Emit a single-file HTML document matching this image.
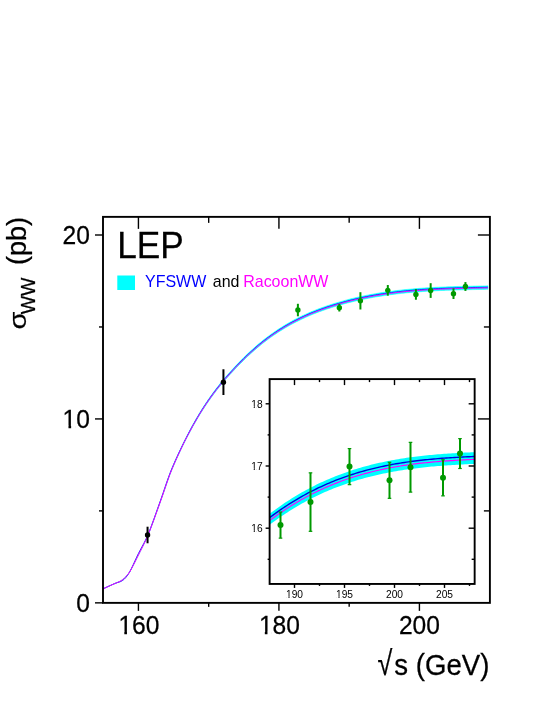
<!DOCTYPE html>
<html><head><meta charset="utf-8">
<style>
html,body{margin:0;padding:0;background:#fff;}
body{width:556px;height:719px;overflow:hidden;}
svg{display:block;will-change:transform;}
text{font-family:"Liberation Sans",sans-serif;fill:#000;}
</style></head>
<body>
<svg width="556" height="719" viewBox="0 0 556 719">
<rect width="556" height="719" fill="#fff"/>
<!-- main curve -->
<clipPath id="cm"><rect x="103.0" y="216.87" width="386.9" height="386"/></clipPath>
<g clip-path="url(#cm)">
<path d="M103.31,588.73 L105.06,587.84 L106.82,587.01 L108.57,586.21 L110.33,585.42 L112.09,584.63 L113.84,583.84 L115.60,583.07 L117.36,582.33 L119.11,581.62 L120.87,580.68 L122.62,579.47 L124.38,578.03 L126.14,576.33 L127.89,574.23 L129.65,571.75 L131.41,568.60 L133.16,565.24 L134.92,561.75 L136.67,558.22 L138.43,554.70 L140.19,551.16 L141.94,547.61 L143.70,544.06 L145.45,540.41 L147.21,536.59 L148.97,532.30 L150.72,527.70 L152.48,522.98 L154.24,518.16 L155.99,513.26 L157.75,508.32 L159.50,503.37 L161.26,498.43 L163.02,493.36 L164.77,488.17 L166.53,482.98 L168.29,477.91 L170.04,473.07 L171.80,468.62 L173.55,464.42 L175.31,460.35 L177.07,456.40 L178.82,452.55 L180.58,448.78 L182.34,445.08 L184.09,441.45 L185.85,437.93 L187.60,434.49 L189.36,431.12 L191.12,427.83 L192.87,424.61 L194.63,421.46 L196.38,418.39 L198.14,415.39 L199.90,412.47 L201.65,409.61 L203.41,406.83 L205.17,404.13 L206.92,401.49 L208.68,398.91 L210.43,396.40 L212.19,393.96 L213.95,391.57 L215.70,389.23 L217.46,386.96 L219.22,384.73 L220.97,382.55 L222.73,380.41 L224.48,378.33 L226.24,376.28 L228.00,374.27 L229.75,372.29 L231.51,370.35 L233.26,368.45 L235.02,366.57 L236.78,364.71 L238.53,362.88 L240.29,361.08 L242.05,359.29 L243.80,357.53 L245.56,355.80 L247.31,354.10 L249.07,352.43 L250.83,350.80 L252.58,349.19 L254.34,347.62 L256.10,346.08 L257.85,344.58 L259.61,343.10 L261.36,341.66 L263.12,340.25 L264.88,338.87 L266.63,337.52 L268.39,336.20 L270.14,334.90 L271.90,333.64 L273.66,332.40 L275.41,331.19 L277.17,330.01 L278.93,328.86 L280.68,327.73 L282.44,326.63 L284.19,325.55 L285.95,324.50 L287.71,323.47 L289.46,322.46 L291.22,321.48 L292.98,320.52 L294.73,319.59 L296.49,318.68 L298.24,317.78 L300.00,316.91 L301.76,316.06 L303.51,315.23 L305.27,314.42 L307.03,313.63 L308.78,312.86 L310.54,312.11 L312.29,311.37 L314.05,310.65 L315.81,309.95 L317.56,309.26 L319.32,308.59 L321.07,307.94 L322.83,307.30 L324.59,306.68 L326.34,306.07 L328.10,305.47 L329.86,304.89 L331.61,304.32 L333.37,303.76 L335.12,303.22 L336.88,302.68 L338.64,302.16 L340.39,301.65 L342.15,301.15 L343.91,300.66 L345.66,300.18 L347.42,299.72 L349.17,299.26 L350.93,298.82 L352.69,298.38 L354.44,297.96 L356.20,297.54 L357.96,297.14 L359.71,296.75 L361.47,296.36 L363.22,295.99 L364.98,295.63 L366.74,295.27 L368.49,294.93 L370.25,294.59 L372.00,294.26 L373.76,293.94 L375.52,293.63 L377.27,293.33 L379.03,293.04 L380.79,292.76 L382.54,292.48 L384.30,292.21 L386.05,291.95 L387.81,291.70 L389.57,291.46 L391.32,291.22 L393.08,290.99 L394.84,290.77 L396.59,290.55 L398.35,290.35 L400.10,290.15 L401.86,289.95 L403.62,289.76 L405.37,289.58 L407.13,289.41 L408.88,289.24 L410.64,289.08 L412.40,288.92 L414.15,288.77 L415.91,288.62 L417.67,288.48 L419.42,288.35 L421.18,288.22 L422.93,288.10 L424.69,287.98 L426.45,287.86 L428.20,287.75 L429.96,287.65 L431.72,287.55 L433.47,287.45 L435.23,287.36 L436.98,287.27 L438.74,287.19 L440.50,287.11 L442.25,287.03 L444.01,286.96 L445.76,286.89 L447.52,286.82 L449.28,286.76 L451.03,286.70 L452.79,286.64 L454.55,286.59 L456.30,286.53 L458.06,286.48 L459.81,286.43 L461.57,286.39 L463.33,286.34 L465.08,286.30 L466.84,286.26 L468.60,286.22 L470.35,286.19 L472.11,286.15 L473.86,286.12 L475.62,286.08 L477.38,286.05 L479.13,286.02 L480.89,285.99 L482.65,285.95 L484.40,285.92 L486.16,285.89 L487.91,285.86 L487.91,289.33 L486.16,289.36 L484.40,289.39 L482.65,289.42 L480.89,289.45 L479.13,289.48 L477.38,289.51 L475.62,289.55 L473.86,289.58 L472.11,289.62 L470.35,289.65 L468.60,289.69 L466.84,289.73 L465.08,289.77 L463.33,289.81 L461.57,289.85 L459.81,289.90 L458.06,289.94 L456.30,289.99 L454.55,290.05 L452.79,290.10 L451.03,290.16 L449.28,290.22 L447.52,290.28 L445.76,290.35 L444.01,290.41 L442.25,290.49 L440.50,290.56 L438.74,290.64 L436.98,290.73 L435.23,290.81 L433.47,290.90 L431.72,291.00 L429.96,291.10 L428.20,291.20 L426.45,291.31 L424.69,291.42 L422.93,291.54 L421.18,291.66 L419.42,291.79 L417.67,291.92 L415.91,292.06 L414.15,292.20 L412.40,292.35 L410.64,292.51 L408.88,292.67 L407.13,292.84 L405.37,293.01 L403.62,293.19 L401.86,293.37 L400.10,293.57 L398.35,293.76 L396.59,293.97 L394.84,294.18 L393.08,294.40 L391.32,294.63 L389.57,294.86 L387.81,295.10 L386.05,295.35 L384.30,295.61 L382.54,295.88 L380.79,296.15 L379.03,296.43 L377.27,296.72 L375.52,297.02 L373.76,297.32 L372.00,297.64 L370.25,297.96 L368.49,298.29 L366.74,298.64 L364.98,298.99 L363.22,299.35 L361.47,299.72 L359.71,300.10 L357.96,300.49 L356.20,300.88 L354.44,301.29 L352.69,301.71 L350.93,302.14 L349.17,302.58 L347.42,303.03 L345.66,303.49 L343.91,303.97 L342.15,304.45 L340.39,304.94 L338.64,305.45 L336.88,305.97 L335.12,306.49 L333.37,307.03 L331.61,307.59 L329.86,308.15 L328.10,308.73 L326.34,309.32 L324.59,309.92 L322.83,310.54 L321.07,311.17 L319.32,311.81 L317.56,312.48 L315.81,313.15 L314.05,313.85 L312.29,314.56 L310.54,315.29 L308.78,316.03 L307.03,316.80 L305.27,317.58 L303.51,318.38 L301.76,319.20 L300.00,320.04 L298.24,320.90 L296.49,321.78 L294.73,322.69 L292.98,323.61 L291.22,324.56 L289.46,325.53 L287.71,326.52 L285.95,327.54 L284.19,328.58 L282.44,329.65 L280.68,330.74 L278.93,331.86 L277.17,333.00 L275.41,334.17 L273.66,335.36 L271.90,336.58 L270.14,337.83 L268.39,339.11 L266.63,340.42 L264.88,341.76 L263.12,343.12 L261.36,344.52 L259.61,345.95 L257.85,347.40 L256.10,348.89 L254.34,350.41 L252.58,351.97 L250.83,353.55 L249.07,355.17 L247.31,356.82 L245.56,358.51 L243.80,360.22 L242.05,361.96 L240.29,363.72 L238.53,365.51 L236.78,367.32 L235.02,369.15 L233.26,371.01 L231.51,372.90 L229.75,374.82 L228.00,376.77 L226.24,378.76 L224.48,380.78 L222.73,382.85 L220.97,384.96 L219.22,387.11 L217.46,389.32 L215.70,391.57 L213.95,393.88 L212.19,396.24 L210.43,398.66 L208.68,401.15 L206.92,403.69 L205.17,406.30 L203.41,408.98 L201.65,411.73 L199.90,414.55 L198.14,417.44 L196.38,420.41 L194.63,423.45 L192.87,426.56 L191.12,429.74 L189.36,433.00 L187.60,436.33 L185.85,439.74 L184.09,443.21 L182.34,446.80 L180.58,450.46 L178.82,454.19 L177.07,458.00 L175.31,461.91 L173.55,465.93 L171.80,470.09 L170.04,474.49 L168.29,479.28 L166.53,484.29 L164.77,489.43 L163.02,494.56 L161.26,499.57 L159.50,504.46 L157.75,509.36 L155.99,514.24 L154.24,519.08 L152.48,523.85 L150.72,528.52 L148.97,533.07 L147.21,537.32 L145.45,541.09 L143.70,544.70 L141.94,548.22 L140.19,551.72 L138.43,555.22 L136.67,558.70 L134.92,562.20 L133.16,565.65 L131.41,568.97 L129.65,572.09 L127.89,574.55 L126.14,576.62 L124.38,578.30 L122.62,579.73 L120.87,580.93 L119.11,581.85 L117.36,582.56 L115.60,583.29 L113.84,584.05 L112.09,584.83 L110.33,585.61 L108.57,586.39 L106.82,587.18 L105.06,588.00 L103.31,588.89Z" fill="#00ffff" stroke="#00ffff" stroke-width="0.5"/>
<path d="M103.31,588.79 L105.06,587.91 L106.82,587.08 L108.57,586.28 L110.33,585.50 L112.09,584.71 L113.84,583.95 L115.60,583.22 L117.36,582.60 L119.11,582.10 L120.87,581.45 L122.62,580.46 L124.38,579.04 L126.14,577.15 L127.89,574.76 L129.65,571.98 L131.41,568.54 L133.16,564.85 L134.92,561.00 L136.67,557.15 L138.43,553.51 L140.19,550.10 L141.94,546.87 L143.70,543.67 L145.45,540.28 L147.21,536.62 L148.97,532.37 L150.72,527.77 L152.48,523.02 L154.24,518.16 L155.99,513.23 L157.75,508.27 L159.50,503.30 L161.26,498.36 L163.02,493.30 L164.77,488.14 L166.53,483.00 L168.29,477.99 L170.04,473.23 L171.80,468.85 L173.55,464.72 L175.31,460.73 L177.07,456.86 L178.82,453.07 L180.58,449.35 L182.34,445.70 L184.09,442.11 L185.85,438.63 L187.60,435.22 L189.36,431.87 L191.12,428.60 L192.87,425.40 L194.63,422.27 L196.38,419.21 L198.14,416.23 L199.90,413.32 L201.65,410.48 L203.41,407.71 L205.17,405.02 L206.92,402.39 L208.68,399.83 L210.43,397.33 L212.19,394.89 L213.95,392.51 L215.70,390.19 L217.46,387.92 L219.22,385.70 L220.97,383.53 L222.73,381.41 L224.48,379.33 L226.24,377.29 L228.00,375.29 L229.75,373.33 L231.51,371.40 L233.26,369.50 L235.02,367.62 L236.78,365.78 L238.53,363.96 L240.29,362.16 L242.05,360.38 L243.80,358.63 L245.56,356.91 L247.31,355.22 L249.07,353.55 L250.83,351.92 L252.58,350.33 L254.34,348.76 L256.10,347.23 L257.85,345.73 L259.61,344.27 L261.36,342.83 L263.12,341.43 L264.88,340.05 L266.63,338.71 L268.39,337.39 L270.14,336.10 L271.90,334.84 L273.66,333.61 L275.41,332.41 L277.17,331.23 L278.93,330.08 L280.68,328.96 L282.44,327.86 L284.19,326.79 L285.95,325.74 L287.71,324.72 L289.46,323.72 L291.22,322.74 L292.98,321.79 L294.73,320.86 L296.49,319.95 L298.24,319.06 L300.00,318.19 L301.76,317.35 L303.51,316.52 L305.27,315.71 L307.03,314.93 L308.78,314.16 L310.54,313.41 L312.29,312.67 L314.05,311.96 L315.81,311.26 L317.56,310.58 L319.32,309.91 L321.07,309.26 L322.83,308.63 L324.59,308.00 L326.34,307.40 L328.10,306.80 L329.86,306.22 L331.61,305.66 L333.37,305.10 L335.12,304.56 L336.88,304.03 L338.64,303.51 L340.39,303.00 L342.15,302.50 L343.91,302.01 L345.66,301.54 L347.42,301.07 L349.17,300.62 L350.93,300.18 L352.69,299.74 L354.44,299.32 L356.20,298.91 L357.96,298.51 L359.71,298.12 L361.47,297.74 L363.22,297.36 L364.98,297.00 L366.74,296.65 L368.49,296.30 L370.25,295.97 L372.00,295.64 L373.76,295.33 L375.52,295.02 L377.27,294.72 L379.03,294.43 L380.79,294.14 L382.54,293.87 L384.30,293.60 L386.05,293.34 L387.81,293.09 L389.57,292.85 L391.32,292.61 L393.08,292.39 L394.84,292.17 L396.59,291.95 L398.35,291.74 L400.10,291.54 L401.86,291.35 L403.62,291.16 L405.37,290.98 L407.13,290.81 L408.88,290.64 L410.64,290.48 L412.40,290.32 L414.15,290.17 L415.91,290.03 L417.67,289.89 L419.42,289.76 L421.18,289.63 L422.93,289.51 L424.69,289.39 L426.45,289.27 L428.20,289.16 L429.96,289.06 L431.72,288.96 L433.47,288.86 L435.23,288.77 L436.98,288.69 L438.74,288.60 L440.50,288.52 L442.25,288.45 L444.01,288.37 L445.76,288.30 L447.52,288.24 L449.28,288.17 L451.03,288.11 L452.79,288.06 L454.55,288.00 L456.30,287.95 L458.06,287.90 L459.81,287.85 L461.57,287.80 L463.33,287.76 L465.08,287.72 L466.84,287.68 L468.60,287.64 L470.35,287.60 L472.11,287.57 L473.86,287.53 L475.62,287.50 L477.38,287.47 L479.13,287.43 L480.89,287.40 L482.65,287.37 L484.40,287.34 L486.16,287.31 L487.91,287.28" fill="none" stroke="#0000ff" stroke-width="0.85"/>
<path d="M103.31,588.82 L105.06,587.94 L106.82,587.11 L108.57,586.32 L110.33,585.53 L112.09,584.75 L113.84,583.97 L115.60,583.20 L117.36,582.47 L119.11,581.76 L120.87,580.83 L122.62,579.62 L124.38,578.19 L126.14,576.50 L127.89,574.42 L129.65,571.95 L131.41,568.82 L133.16,565.48 L134.92,562.02 L136.67,558.50 L138.43,555.01 L140.19,551.49 L141.94,547.97 L143.70,544.44 L145.45,540.81 L147.21,537.02 L148.97,532.75 L150.72,528.18 L152.48,523.50 L154.24,518.71 L155.99,513.84 L157.75,508.93 L159.50,504.01 L161.26,499.11 L163.02,494.07 L164.77,488.91 L166.53,483.76 L168.29,478.72 L170.04,473.91 L171.80,469.49 L173.55,465.31 L175.31,461.27 L177.07,457.35 L178.82,453.52 L180.58,449.77 L182.34,446.10 L184.09,442.49 L185.85,439.00 L187.60,435.58 L189.36,432.23 L191.12,428.96 L192.87,425.76 L194.63,422.64 L196.38,419.58 L198.14,416.60 L199.90,413.70 L201.65,410.86 L203.41,408.10 L205.17,405.41 L206.92,402.79 L208.68,400.23 L210.43,397.74 L212.19,395.31 L213.95,392.93 L215.70,390.62 L217.46,388.35 L219.22,386.14 L220.97,383.97 L222.73,381.85 L224.48,379.78 L226.24,377.74 L228.00,375.75 L229.75,373.78 L231.51,371.86 L233.26,369.96 L235.02,368.09 L236.78,366.25 L238.53,364.43 L240.29,362.64 L242.05,360.87 L243.80,359.12 L245.56,357.40 L247.31,355.71 L249.07,354.05 L250.83,352.42 L252.58,350.83 L254.34,349.27 L256.10,347.74 L257.85,346.25 L259.61,344.78 L261.36,343.35 L263.12,341.95 L264.88,340.58 L266.63,339.23 L268.39,337.92 L270.14,336.64 L271.90,335.38 L273.66,334.15 L275.41,332.95 L277.17,331.78 L278.93,330.63 L280.68,329.51 L282.44,328.41 L284.19,327.34 L285.95,326.30 L287.71,325.27 L289.46,324.28 L291.22,323.30 L292.98,322.35 L294.73,321.42 L296.49,320.51 L298.24,319.63 L300.00,318.76 L301.76,317.92 L303.51,317.09 L305.27,316.29 L307.03,315.50 L308.78,314.73 L310.54,313.98 L312.29,313.25 L314.05,312.54 L315.81,311.84 L317.56,311.16 L319.32,310.50 L321.07,309.85 L322.83,309.21 L324.59,308.59 L326.34,307.99 L328.10,307.40 L329.86,306.82 L331.61,306.25 L333.37,305.70 L335.12,305.15 L336.88,304.62 L338.64,304.10 L340.39,303.60 L342.15,303.10 L343.91,302.61 L345.66,302.14 L347.42,301.68 L349.17,301.22 L350.93,300.78 L352.69,300.35 L354.44,299.93 L356.20,299.52 L357.96,299.12 L359.71,298.73 L361.47,298.35 L363.22,297.97 L364.98,297.61 L366.74,297.26 L368.49,296.92 L370.25,296.58 L372.00,296.26 L373.76,295.94 L375.52,295.63 L377.27,295.33 L379.03,295.04 L380.79,294.76 L382.54,294.49 L384.30,294.22 L386.05,293.96 L387.81,293.71 L389.57,293.47 L391.32,293.23 L393.08,293.01 L394.84,292.79 L396.59,292.57 L398.35,292.37 L400.10,292.17 L401.86,291.97 L403.62,291.79 L405.37,291.61 L407.13,291.43 L408.88,291.27 L410.64,291.10 L412.40,290.95 L414.15,290.80 L415.91,290.65 L417.67,290.52 L419.42,290.38 L421.18,290.25 L422.93,290.13 L424.69,290.01 L426.45,289.90 L428.20,289.79 L429.96,289.69 L431.72,289.59 L433.47,289.49 L435.23,289.40 L436.98,289.31 L438.74,289.23 L440.50,289.15 L442.25,289.07 L444.01,289.00 L445.76,288.93 L447.52,288.87 L449.28,288.80 L451.03,288.74 L452.79,288.68 L454.55,288.63 L456.30,288.58 L458.06,288.53 L459.81,288.48 L461.57,288.43 L463.33,288.39 L465.08,288.35 L466.84,288.31 L468.60,288.27 L470.35,288.23 L472.11,288.20 L473.86,288.16 L475.62,288.13 L477.38,288.10 L479.13,288.07 L480.89,288.03 L482.65,288.00 L484.40,287.97 L486.16,287.94 L487.91,287.91" fill="none" stroke="#ff00ff" stroke-width="1.0"/>
</g>
<line x1="147.56" y1="526.71" x2="147.56" y2="543.27" stroke="#000" stroke-width="2"/><circle cx="147.56" cy="534.99" r="2.7" fill="#000"/>
<line x1="223.43" y1="369.27" x2="223.43" y2="395.02" stroke="#000" stroke-width="2"/><circle cx="223.43" cy="382.14" r="2.7" fill="#000"/>
<line x1="297.89" y1="303.79" x2="297.89" y2="316.30" stroke="#009900" stroke-width="2"/><circle cx="297.89" cy="310.04" r="2.7" fill="#009900"/>
<line x1="339.34" y1="303.79" x2="339.34" y2="311.51" stroke="#009900" stroke-width="2"/><circle cx="339.34" cy="307.65" r="2.7" fill="#009900"/>
<line x1="360.41" y1="292.20" x2="360.41" y2="309.49" stroke="#009900" stroke-width="2"/><circle cx="360.41" cy="300.85" r="2.7" fill="#009900"/>
<line x1="387.81" y1="285.03" x2="387.81" y2="295.70" stroke="#009900" stroke-width="2"/><circle cx="387.81" cy="290.36" r="2.7" fill="#009900"/>
<line x1="415.91" y1="289.08" x2="415.91" y2="299.74" stroke="#009900" stroke-width="2"/><circle cx="415.91" cy="294.41" r="2.7" fill="#009900"/>
<line x1="430.66" y1="283.19" x2="430.66" y2="297.90" stroke="#009900" stroke-width="2"/><circle cx="430.66" cy="290.55" r="2.7" fill="#009900"/>
<line x1="453.49" y1="288.34" x2="453.49" y2="299.01" stroke="#009900" stroke-width="2"/><circle cx="453.49" cy="293.67" r="2.7" fill="#009900"/>
<line x1="465.43" y1="282.09" x2="465.43" y2="290.91" stroke="#009900" stroke-width="2"/><circle cx="465.43" cy="286.50" r="2.7" fill="#009900"/>

<!-- main frame -->
<rect x="103.0" y="216.87" width="386.9" height="386" fill="none" stroke="#000" stroke-width="1.9"/>
<g stroke="#000" stroke-width="1.4"><line x1="138.43" y1="602.86" x2="138.43" y2="610.86"/><line x1="138.43" y1="216.87" x2="138.43" y2="228.87"/><line x1="208.68" y1="602.86" x2="208.68" y2="606.86"/><line x1="208.68" y1="216.87" x2="208.68" y2="222.87"/><line x1="278.93" y1="602.86" x2="278.93" y2="610.86"/><line x1="278.93" y1="216.87" x2="278.93" y2="228.87"/><line x1="349.17" y1="602.86" x2="349.17" y2="606.86"/><line x1="349.17" y1="216.87" x2="349.17" y2="222.87"/><line x1="419.42" y1="602.86" x2="419.42" y2="610.86"/><line x1="419.42" y1="216.87" x2="419.42" y2="228.87"/><line x1="103.0" y1="602.86" x2="95.00" y2="602.86"/><line x1="103.0" y1="510.89" x2="99.00" y2="510.89"/><line x1="489.9" y1="510.89" x2="483.90" y2="510.89"/><line x1="103.0" y1="418.93" x2="95.00" y2="418.93"/><line x1="489.9" y1="418.93" x2="477.90" y2="418.93"/><line x1="103.0" y1="326.97" x2="99.00" y2="326.97"/><line x1="489.9" y1="326.97" x2="483.90" y2="326.97"/><line x1="103.0" y1="235.00" x2="95.00" y2="235.00"/><line x1="489.9" y1="235.00" x2="477.90" y2="235.00"/></g>
<!-- inset -->
<rect x="269.62" y="379.1" width="205.03" height="204.85" fill="#fff"/>
<clipPath id="ci"><rect x="269.62" y="379.1" width="205.03" height="204.85"/></clipPath>
<g clip-path="url(#ci)">
<path d="M268.50,514.59 L270.59,512.99 L272.68,511.43 L274.77,509.89 L276.86,508.38 L278.95,506.90 L281.05,505.44 L283.14,504.01 L285.23,502.61 L287.32,501.24 L289.41,499.89 L291.50,498.57 L293.59,497.27 L295.68,496.00 L297.77,494.75 L299.86,493.53 L301.95,492.33 L304.05,491.16 L306.14,490.01 L308.23,488.89 L310.32,487.78 L312.41,486.71 L314.50,485.65 L316.59,484.62 L318.68,483.61 L320.77,482.62 L322.86,481.65 L324.95,480.71 L327.05,479.79 L329.14,478.88 L331.23,478.00 L333.32,477.14 L335.41,476.30 L337.50,475.48 L339.59,474.68 L341.68,473.90 L343.77,473.14 L345.86,472.39 L347.95,471.67 L350.05,470.96 L352.14,470.28 L354.23,469.61 L356.32,468.95 L358.41,468.32 L360.50,467.70 L362.59,467.10 L364.68,466.51 L366.77,465.95 L368.86,465.39 L370.95,464.86 L373.05,464.34 L375.14,463.83 L377.23,463.34 L379.32,462.86 L381.41,462.40 L383.50,461.95 L385.59,461.52 L387.68,461.09 L389.77,460.69 L391.86,460.29 L393.95,459.91 L396.05,459.54 L398.14,459.18 L400.23,458.84 L402.32,458.51 L404.41,458.18 L406.50,457.87 L408.59,457.57 L410.68,457.28 L412.77,457.00 L414.86,456.73 L416.95,456.48 L419.05,456.23 L421.14,455.98 L423.23,455.75 L425.32,455.53 L427.41,455.32 L429.50,455.11 L431.59,454.91 L433.68,454.72 L435.77,454.54 L437.86,454.36 L439.95,454.19 L442.05,454.03 L444.14,453.87 L446.23,453.72 L448.32,453.58 L450.41,453.44 L452.50,453.30 L454.59,453.18 L456.68,453.05 L458.77,452.93 L460.86,452.82 L462.95,452.70 L465.05,452.60 L467.14,452.49 L469.23,452.39 L471.32,452.29 L473.41,452.19 L475.50,452.10 L475.50,463.82 L473.41,463.91 L471.32,464.01 L469.23,464.11 L467.14,464.21 L465.05,464.31 L462.95,464.42 L460.86,464.53 L458.77,464.64 L456.68,464.76 L454.59,464.88 L452.50,465.01 L450.41,465.14 L448.32,465.28 L446.23,465.42 L444.14,465.57 L442.05,465.73 L439.95,465.89 L437.86,466.06 L435.77,466.23 L433.68,466.41 L431.59,466.60 L429.50,466.80 L427.41,467.00 L425.32,467.21 L423.23,467.43 L421.14,467.66 L419.05,467.90 L416.95,468.15 L414.86,468.40 L412.77,468.67 L410.68,468.95 L408.59,469.23 L406.50,469.53 L404.41,469.84 L402.32,470.16 L400.23,470.49 L398.14,470.83 L396.05,471.18 L393.95,471.55 L391.86,471.92 L389.77,472.31 L387.68,472.72 L385.59,473.13 L383.50,473.56 L381.41,474.01 L379.32,474.46 L377.23,474.93 L375.14,475.42 L373.05,475.92 L370.95,476.44 L368.86,476.97 L366.77,477.51 L364.68,478.08 L362.59,478.66 L360.50,479.25 L358.41,479.86 L356.32,480.49 L354.23,481.13 L352.14,481.80 L350.05,482.48 L347.95,483.18 L345.86,483.89 L343.77,484.63 L341.68,485.38 L339.59,486.15 L337.50,486.95 L335.41,487.76 L333.32,488.59 L331.23,489.44 L329.14,490.31 L327.05,491.20 L324.95,492.12 L322.86,493.05 L320.77,494.01 L318.68,494.98 L316.59,495.98 L314.50,497.00 L312.41,498.05 L310.32,499.11 L308.23,500.20 L306.14,501.32 L304.05,502.45 L301.95,503.61 L299.86,504.80 L297.77,506.00 L295.68,507.24 L293.59,508.50 L291.50,509.78 L289.41,511.09 L287.32,512.42 L285.23,513.78 L283.14,515.17 L281.05,516.58 L278.95,518.02 L276.86,519.48 L274.77,520.98 L272.68,522.50 L270.59,524.05 L268.50,525.62Z" fill="#00ffff"/>
<path d="M268.50,518.55 L270.59,516.96 L272.68,515.41 L274.77,513.88 L276.86,512.38 L278.95,510.90 L281.05,509.45 L283.14,508.03 L285.23,506.64 L287.32,505.27 L289.41,503.93 L291.50,502.62 L293.59,501.33 L295.68,500.06 L297.77,498.82 L299.86,497.61 L301.95,496.42 L304.05,495.25 L306.14,494.11 L308.23,492.99 L310.32,491.89 L312.41,490.82 L314.50,489.77 L316.59,488.75 L318.68,487.74 L320.77,486.76 L322.86,485.80 L324.95,484.86 L327.05,483.94 L329.14,483.04 L331.23,482.17 L333.32,481.31 L335.41,480.47 L337.50,479.66 L339.59,478.86 L341.68,478.09 L343.77,477.33 L345.86,476.59 L347.95,475.87 L350.05,475.17 L352.14,474.48 L354.23,473.82 L356.32,473.17 L358.41,472.53 L360.50,471.92 L362.59,471.32 L364.68,470.74 L366.77,470.18 L368.86,469.63 L370.95,469.09 L373.05,468.57 L375.14,468.07 L377.23,467.58 L379.32,467.11 L381.41,466.65 L383.50,466.20 L385.59,465.77 L387.68,465.35 L389.77,464.94 L391.86,464.55 L393.95,464.17 L396.05,463.81 L398.14,463.45 L400.23,463.11 L402.32,462.78 L404.41,462.45 L406.50,462.15 L408.59,461.85 L410.68,461.56 L412.77,461.28 L414.86,461.01 L416.95,460.76 L419.05,460.51 L421.14,460.27 L423.23,460.04 L425.32,459.82 L427.41,459.60 L429.50,459.40 L431.59,459.20 L433.68,459.01 L435.77,458.83 L437.86,458.65 L439.95,458.49 L442.05,458.32 L444.14,458.17 L446.23,458.02 L448.32,457.87 L450.41,457.74 L452.50,457.60 L454.59,457.47 L456.68,457.35 L458.77,457.23 L460.86,457.12 L462.95,457.01 L465.05,456.90 L467.14,456.79 L469.23,456.69 L471.32,456.59 L473.41,456.50 L475.50,456.40" fill="none" stroke="#0000e0" stroke-width="1.4"/>
<path d="M268.50,521.47 L270.59,519.89 L272.68,518.33 L274.77,516.80 L276.86,515.30 L278.95,513.83 L281.05,512.38 L283.14,510.96 L285.23,509.56 L287.32,508.20 L289.41,506.86 L291.50,505.54 L293.59,504.25 L295.68,502.99 L297.77,501.75 L299.86,500.53 L301.95,499.34 L304.05,498.17 L306.14,497.03 L308.23,495.91 L310.32,494.82 L312.41,493.75 L314.50,492.70 L316.59,491.67 L318.68,490.66 L320.77,489.68 L322.86,488.72 L324.95,487.78 L327.05,486.86 L329.14,485.97 L331.23,485.09 L333.32,484.23 L335.41,483.40 L337.50,482.58 L339.59,481.79 L341.68,481.01 L343.77,480.25 L345.86,479.51 L347.95,478.79 L350.05,478.09 L352.14,477.41 L354.23,476.74 L356.32,476.09 L358.41,475.46 L360.50,474.84 L362.59,474.25 L364.68,473.66 L366.77,473.10 L368.86,472.55 L370.95,472.02 L373.05,471.50 L375.14,470.99 L377.23,470.50 L379.32,470.03 L381.41,469.57 L383.50,469.12 L385.59,468.69 L387.68,468.27 L389.77,467.87 L391.86,467.48 L393.95,467.10 L396.05,466.73 L398.14,466.37 L400.23,466.03 L402.32,465.70 L404.41,465.38 L406.50,465.07 L408.59,464.77 L410.68,464.48 L412.77,464.20 L414.86,463.94 L416.95,463.68 L419.05,463.43 L421.14,463.19 L423.23,462.96 L425.32,462.74 L427.41,462.53 L429.50,462.32 L431.59,462.12 L433.68,461.93 L435.77,461.75 L437.86,461.58 L439.95,461.41 L442.05,461.25 L444.14,461.09 L446.23,460.94 L448.32,460.80 L450.41,460.66 L452.50,460.53 L454.59,460.40 L456.68,460.27 L458.77,460.16 L460.86,460.04 L462.95,459.93 L465.05,459.82 L467.14,459.72 L469.23,459.62 L471.32,459.52 L473.41,459.42 L475.50,459.33" fill="none" stroke="#ff00ff" stroke-width="1.2"/>
</g>
<line x1="280.50" y1="512.03" x2="280.50" y2="538.15" stroke="#009900" stroke-width="2"/><line x1="278.70" y1="512.03" x2="282.30" y2="512.03" stroke="#009900" stroke-width="1.2"/><line x1="278.70" y1="538.15" x2="282.30" y2="538.15" stroke="#009900" stroke-width="1.2"/><circle cx="280.50" cy="525.09" r="3" fill="#009900"/>
<line x1="310.50" y1="472.84" x2="310.50" y2="531.31" stroke="#009900" stroke-width="2"/><line x1="308.70" y1="472.84" x2="312.30" y2="472.84" stroke="#009900" stroke-width="1.2"/><line x1="308.70" y1="531.31" x2="312.30" y2="531.31" stroke="#009900" stroke-width="1.2"/><circle cx="310.50" cy="502.08" r="3" fill="#009900"/>
<line x1="349.50" y1="448.58" x2="349.50" y2="484.66" stroke="#009900" stroke-width="2"/><line x1="347.70" y1="448.58" x2="351.30" y2="448.58" stroke="#009900" stroke-width="1.2"/><line x1="347.70" y1="484.66" x2="351.30" y2="484.66" stroke="#009900" stroke-width="1.2"/><circle cx="349.50" cy="466.62" r="3" fill="#009900"/>
<line x1="389.50" y1="462.27" x2="389.50" y2="498.34" stroke="#009900" stroke-width="2"/><line x1="387.70" y1="462.27" x2="391.30" y2="462.27" stroke="#009900" stroke-width="1.2"/><line x1="387.70" y1="498.34" x2="391.30" y2="498.34" stroke="#009900" stroke-width="1.2"/><circle cx="389.50" cy="480.31" r="3" fill="#009900"/>
<line x1="410.50" y1="442.36" x2="410.50" y2="492.12" stroke="#009900" stroke-width="2"/><line x1="408.70" y1="442.36" x2="412.30" y2="442.36" stroke="#009900" stroke-width="1.2"/><line x1="408.70" y1="492.12" x2="412.30" y2="492.12" stroke="#009900" stroke-width="1.2"/><circle cx="410.50" cy="467.24" r="3" fill="#009900"/>
<line x1="443.00" y1="459.78" x2="443.00" y2="495.86" stroke="#009900" stroke-width="2"/><line x1="441.20" y1="459.78" x2="444.80" y2="459.78" stroke="#009900" stroke-width="1.2"/><line x1="441.20" y1="495.86" x2="444.80" y2="495.86" stroke="#009900" stroke-width="1.2"/><circle cx="443.00" cy="477.82" r="3" fill="#009900"/>
<line x1="460.00" y1="438.63" x2="460.00" y2="468.49" stroke="#009900" stroke-width="2"/><line x1="458.20" y1="438.63" x2="461.80" y2="438.63" stroke="#009900" stroke-width="1.2"/><line x1="458.20" y1="468.49" x2="461.80" y2="468.49" stroke="#009900" stroke-width="1.2"/><circle cx="460.00" cy="453.56" r="3" fill="#009900"/>

<rect x="269.62" y="379.1" width="205.03" height="204.85" fill="none" stroke="#000" stroke-width="1.9"/>
<g stroke="#000" stroke-width="1.4"><line x1="294.50" y1="583.95" x2="294.50" y2="587.95"/><line x1="294.50" y1="379.1" x2="294.50" y2="385.10"/><line x1="319.50" y1="583.95" x2="319.50" y2="585.95"/><line x1="319.50" y1="379.1" x2="319.50" y2="382.10"/><line x1="344.50" y1="583.95" x2="344.50" y2="587.95"/><line x1="344.50" y1="379.1" x2="344.50" y2="385.10"/><line x1="369.50" y1="583.95" x2="369.50" y2="585.95"/><line x1="369.50" y1="379.1" x2="369.50" y2="382.10"/><line x1="394.50" y1="583.95" x2="394.50" y2="587.95"/><line x1="394.50" y1="379.1" x2="394.50" y2="385.10"/><line x1="419.50" y1="583.95" x2="419.50" y2="585.95"/><line x1="419.50" y1="379.1" x2="419.50" y2="382.10"/><line x1="444.50" y1="583.95" x2="444.50" y2="587.95"/><line x1="444.50" y1="379.1" x2="444.50" y2="385.10"/><line x1="469.50" y1="583.95" x2="469.50" y2="585.95"/><line x1="469.50" y1="379.1" x2="469.50" y2="382.10"/><line x1="269.62" y1="559.30" x2="267.62" y2="559.30"/><line x1="474.65" y1="559.30" x2="471.65" y2="559.30"/><line x1="269.62" y1="528.20" x2="265.62" y2="528.20"/><line x1="474.65" y1="528.20" x2="468.65" y2="528.20"/><line x1="269.62" y1="497.10" x2="267.62" y2="497.10"/><line x1="474.65" y1="497.10" x2="471.65" y2="497.10"/><line x1="269.62" y1="466.00" x2="265.62" y2="466.00"/><line x1="474.65" y1="466.00" x2="468.65" y2="466.00"/><line x1="269.62" y1="434.90" x2="267.62" y2="434.90"/><line x1="474.65" y1="434.90" x2="471.65" y2="434.90"/><line x1="269.62" y1="403.80" x2="265.62" y2="403.80"/><line x1="474.65" y1="403.80" x2="468.65" y2="403.80"/></g>
<!-- inset labels -->
<g font-size="10.2">
<text transform="translate(294.5,598.1) scale(1,1.07)" text-anchor="middle">190</text>
<text transform="translate(344.5,598.1) scale(1,1.07)" text-anchor="middle">195</text>
<text transform="translate(394.5,598.1) scale(1,1.07)" text-anchor="middle">200</text>
<text transform="translate(444.5,598.1) scale(1,1.07)" text-anchor="middle">205</text>
<text transform="translate(262.6,407.6) scale(1,1.07)" text-anchor="end">18</text>
<text transform="translate(262.6,469.8) scale(1,1.07)" text-anchor="end">17</text>
<text transform="translate(262.6,532) scale(1,1.07)" text-anchor="end">16</text>
</g>
<!-- main labels -->
<g font-size="24.6" stroke="#000" stroke-width="0.25">
<text transform="translate(89.9,244.4) scale(1,1.08)" text-anchor="end">20</text>
<text transform="translate(89.9,428.3) scale(1,1.08)" text-anchor="end">10</text>
<text transform="translate(89.9,612.4) scale(1,1.08)" text-anchor="end">0</text>
<text transform="translate(138.9,634.4) scale(1,1.08)" text-anchor="middle">160</text>
<text transform="translate(279.4,634.4) scale(1,1.08)" text-anchor="middle">180</text>
<text transform="translate(419.4,634.4) scale(1,1.08)" text-anchor="middle">200</text>
</g>
<g fill="#fff"><rect x="63.53" y="425.64" width="4.95" height="3.73"/><rect x="71.13" y="425.64" width="4.45" height="3.73"/><rect x="119.37" y="631.74" width="4.95" height="3.73"/><rect x="126.97" y="631.74" width="4.45" height="3.73"/><rect x="259.87" y="631.74" width="4.95" height="3.73"/><rect x="267.47" y="631.74" width="4.45" height="3.73"/><rect x="286.40" y="596.71" width="2.02" height="2.36"/><rect x="289.58" y="596.71" width="1.82" height="2.36"/><rect x="336.40" y="596.71" width="2.02" height="2.36"/><rect x="339.58" y="596.71" width="1.82" height="2.36"/><rect x="251.67" y="406.21" width="2.02" height="2.36"/><rect x="254.85" y="406.21" width="1.82" height="2.36"/><rect x="251.67" y="468.41" width="2.02" height="2.36"/><rect x="254.85" y="468.41" width="1.82" height="2.36"/><rect x="251.67" y="530.61" width="2.02" height="2.36"/><rect x="254.85" y="530.61" width="1.82" height="2.36"/></g>
<text transform="translate(117.2,257.7) scale(1,1.06)" font-size="35.2" stroke="#000" stroke-width="0.25">LEP</text>
<rect x="117.3" y="275.5" width="17.7" height="14.5" fill="#00ffff"/>
<g font-size="16">
<text transform="translate(145,286.5) scale(1,1.06)" style="fill:#0000ff">YFSWW</text>
<text transform="translate(212.8,286.5) scale(1,1.06)">and</text>
<text transform="translate(243.2,286.5) scale(1,1.06)" style="fill:#ff00ff">RacoonWW</text>
</g>
<!-- x title -->
<g font-size="27.6" stroke="#000" stroke-width="0.25">
<text transform="translate(377.4,675.2) scale(1,1.26)" font-size="27">√</text>
<text transform="translate(394.3,675.2) scale(1,1.06)">s</text>
<text transform="translate(415.8,675.2) scale(1,1.04)">(GeV)</text>
</g>
<!-- y title -->
<g transform="translate(25.7,328) rotate(-90)">
<g stroke="#000" stroke-width="0.25"><text transform="translate(-1.4,0) scale(1.07,0.9)" font-size="27">σ</text>
<text transform="translate(13.7,9.2) scale(1,1.06)" font-size="19.5">WW</text>
<text transform="translate(63,0) scale(1,1.02)" font-size="27">(pb)</text></g>
</g>
</svg>
</body></html>
